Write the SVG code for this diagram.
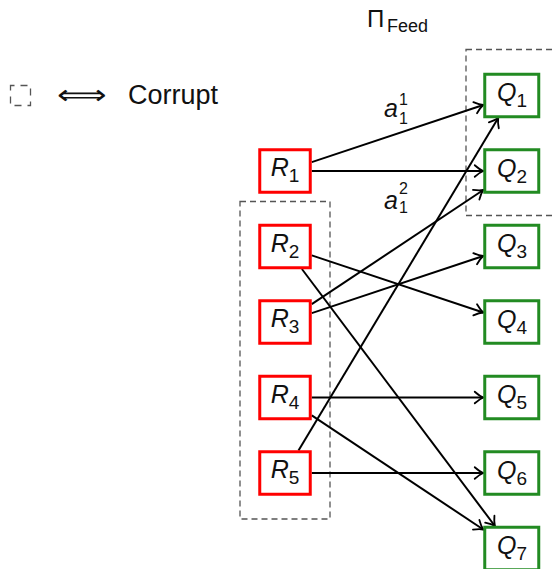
<svg xmlns="http://www.w3.org/2000/svg" width="555" height="569" viewBox="0 0 555 569">
  <style>
    .bg { fill: #ffffff; }
    .rbox { fill: #ffffff; stroke: #ff0000; stroke-width: 3; }
    .qbox { fill: #ffffff; stroke: #228b22; stroke-width: 3; }
    .group { fill: none; stroke: #555555; stroke-width: 1.3; stroke-dasharray: 6 4; }
    .edge { fill: none; stroke: #000000; stroke-width: 2; marker-end: url(#tip); }
    .lbl { font-family: "Liberation Sans", Arial, sans-serif; font-style: italic; font-size: 25px; fill: #111111; text-anchor: middle; }
    .sub { font-style: normal; font-size: 19px; }
    .txt { font-family: "Liberation Sans", Arial, sans-serif; fill: #111111; }
  </style>
  <defs>
    <marker id="tip" markerUnits="userSpaceOnUse" markerWidth="16" markerHeight="16" viewBox="-11 -8 13 16" refX="0" refY="0" orient="auto">
      <path d="M -8.5 -5.8 Q -3.5 -1.4 0 0 Q -3.5 1.4 -8.5 5.8" fill="none" stroke="#000000" stroke-width="1.8" stroke-linecap="round"/>
    </marker>
  </defs>

  <rect class="bg" x="0" y="0" width="555" height="569"/>

  <!-- title -->
  <g id="title">
    <text class="txt" x="367" y="27" font-size="24">Π</text>
    <text class="txt" x="387" y="32" font-size="18">Feed</text>
  </g>

  <!-- legend -->
  <g id="legend">
    <rect x="10.5" y="85.5" width="20" height="20" fill="none" stroke="#555555" stroke-width="1.3" stroke-dasharray="7 6" stroke-dashoffset="3"/>
    <text class="txt" x="57" y="104" font-size="27" font-family="'DejaVu Sans', sans-serif" textLength="50" lengthAdjust="spacingAndGlyphs">⟺</text>
    <text class="txt" x="128" y="104" font-size="27">Corrupt</text>
  </g>

  <!-- corrupted groups -->
  <rect class="group" x="240" y="201.5" width="90" height="317.5"/>
  <rect class="group" x="466" y="49.5" width="100" height="166"/>

  <!-- connectors -->
  <g id="connectors">
    <line class="edge" x1="311.75" y1="162.1" x2="483.25" y2="105"/>
    <line class="edge" x1="311.75" y1="171" x2="483.25" y2="171"/>
    <line class="edge" x1="311.75" y1="255.4" x2="483.25" y2="312.5"/>
    <line class="edge" x1="301.9" y1="269" x2="494.9" y2="526"/>
    <line class="edge" x1="311.75" y1="304.2" x2="483.25" y2="190"/>
    <line class="edge" x1="311.75" y1="313.1" x2="483.25" y2="256"/>
    <line class="edge" x1="311.75" y1="397.5" x2="483.25" y2="397.5"/>
    <line class="edge" x1="311.75" y1="415.3" x2="483.25" y2="529.5"/>
    <line class="edge" x1="298.5" y1="450.5" x2="498.2" y2="118"/>
    <line class="edge" x1="311.75" y1="473" x2="483.25" y2="473"/>
    <text class="lbl" x="391" y="117" font-size="25">a</text>
    <text class="txt" x="399" y="105" font-size="16">1</text>
    <text class="txt" x="399" y="124" font-size="16">1</text>
    <text class="lbl" x="391" y="209" font-size="25">a</text>
    <text class="txt" x="399" y="194" font-size="16">2</text>
    <text class="txt" x="399" y="213" font-size="16">1</text>
  </g>

  <!-- sender nodes -->
  <g id="R1"><rect class="rbox" x="259.75" y="149.75" width="50.5" height="42.5"/><text class="lbl" x="285" y="176">R<tspan class="sub" dy="6">1</tspan></text></g>
  <g id="R2"><rect class="rbox" x="259.75" y="225.25" width="50.5" height="42.5"/><text class="lbl" x="285" y="251.5">R<tspan class="sub" dy="6">2</tspan></text></g>
  <g id="R3"><rect class="rbox" x="259.75" y="300.75" width="50.5" height="42.5"/><text class="lbl" x="285" y="327">R<tspan class="sub" dy="6">3</tspan></text></g>
  <g id="R4"><rect class="rbox" x="259.75" y="376.25" width="50.5" height="42.5"/><text class="lbl" x="285" y="402.5">R<tspan class="sub" dy="6">4</tspan></text></g>
  <g id="R5"><rect class="rbox" x="259.75" y="451.75" width="50.5" height="42.5"/><text class="lbl" x="285" y="478">R<tspan class="sub" dy="6">5</tspan></text></g>

  <!-- receiver nodes -->
  <g id="Q1"><rect class="qbox" x="484.75" y="74.25" width="54" height="42.5"/><text class="lbl" x="512" y="101">Q<tspan class="sub" dy="6">1</tspan></text></g>
  <g id="Q2"><rect class="qbox" x="484.75" y="149.75" width="54" height="42.5"/><text class="lbl" x="512" y="176.5">Q<tspan class="sub" dy="6">2</tspan></text></g>
  <g id="Q3"><rect class="qbox" x="484.75" y="225.25" width="54" height="42.5"/><text class="lbl" x="512" y="252">Q<tspan class="sub" dy="6">3</tspan></text></g>
  <g id="Q4"><rect class="qbox" x="484.75" y="300.75" width="54" height="42.5"/><text class="lbl" x="512" y="327.5">Q<tspan class="sub" dy="6">4</tspan></text></g>
  <g id="Q5"><rect class="qbox" x="484.75" y="376.25" width="54" height="42.5"/><text class="lbl" x="512" y="403">Q<tspan class="sub" dy="6">5</tspan></text></g>
  <g id="Q6"><rect class="qbox" x="484.75" y="451.75" width="54" height="42.5"/><text class="lbl" x="512" y="478.5">Q<tspan class="sub" dy="6">6</tspan></text></g>
  <g id="Q7"><rect class="qbox" x="484.75" y="527.25" width="54" height="42.5"/><text class="lbl" x="512" y="554">Q<tspan class="sub" dy="6">7</tspan></text></g>
</svg>
